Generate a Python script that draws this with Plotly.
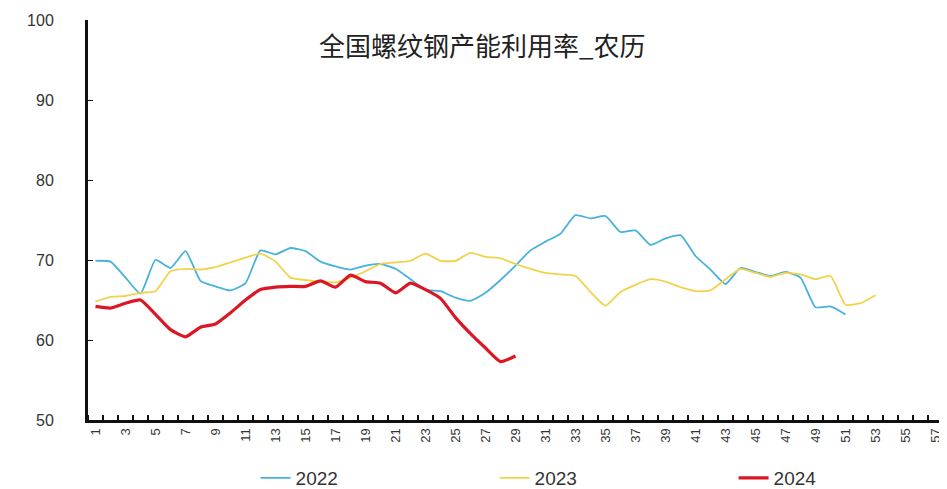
import plotly.graph_objects as go

weeks = list(range(1, 58))
tick_weeks = list(range(1, 58, 2))
tick_labels = [str(w) for w in tick_weeks]

s2022 = [69.9, 69.8, 67.8, 65.8, 70.0, 69.0, 71.1, 67.4, 66.7, 66.2,
         67.1, 71.2, 70.7, 71.5, 71.1, 69.8, 69.2, 68.8, 69.3, 69.5,
         68.9, 67.6, 66.3, 66.1, 65.3, 64.9, 65.9, 67.5, 69.3, 71.2,
         72.3, 73.3, 75.6, 75.2, 75.5, 73.5, 73.7, 71.9, 72.7, 73.1,
         70.5, 68.8, 67.0, 69.0, 68.5, 68.0, 68.5, 67.8, 64.1, 64.2,
         63.2]
s2023 = [64.8, 65.4, 65.5, 65.9, 66.1, 68.6, 68.9, 68.8, 69.1, 69.7,
         70.3, 70.8, 69.8, 67.8, 67.5, 67.3, 67.2, 67.8, 68.6, 69.5,
         69.7, 69.9, 70.8, 69.9, 69.9, 70.9, 70.4, 70.2, 69.5, 68.9,
         68.4, 68.2, 68.0, 66.0, 64.3, 66.0, 66.9, 67.6, 67.3, 66.6,
         66.1, 66.2, 67.6, 68.9, 68.4, 67.9, 68.4, 68.2, 67.6, 68.0,
         64.4, 64.6, 65.6]
s2024 = [64.2, 64.0, 64.6, 65.0, 63.2, 61.3, 60.4, 61.6, 62.0, 63.4,
         65.0, 66.3, 66.6, 66.7, 66.7, 67.4, 66.6, 68.1, 67.3, 67.1,
         65.9, 67.1, 66.3, 65.2, 62.8, 60.8, 59.0, 57.3, 58.0]

series = [
    ("2022", s2022, "#47b2dc", 1.8),
    ("2023", s2023, "#f2d24c", 1.8),
    ("2024", s2024, "#dc1622", 3.2),
]

fig = go.Figure()
for name, vals, color, width in series:
    fig.add_trace(go.Scatter(
        x=weeks[:len(vals)], y=vals, name=name, mode="lines",
        line=dict(color=color, width=width, shape="spline", smoothing=0.5),
    ))

# page body has an 8px margin, so the figure is sized 8px smaller each way
fig.update_layout(
    width=939, height=481,
    paper_bgcolor="white", plot_bgcolor="white",
    margin=dict(l=80, r=4, t=12, b=69, autoexpand=False),
    font=dict(family="Liberation Sans, Arial, sans-serif", color="#333"),
    title=dict(text="全国螺纹钢产能利用率_农历", x=0.505, xref="container",
               y=0.919, yref="container", xanchor="center", yanchor="middle",
               font=dict(family="Noto Sans CJK SC", size=26, color="#222")),
    showlegend=True,
    legend=dict(orientation="h", x=0.196, xanchor="left", y=-0.145, yanchor="middle",
                entrywidth=194, entrywidthmode="pixels",
                font=dict(size=19, color="#333"), bgcolor="rgba(0,0,0,0)"),
)
fig.update_xaxes(
    range=[0.5, 57.5], tickmode="array", tickvals=tick_weeks, ticktext=tick_labels,
    tickangle=-90, ticks="", showgrid=False, zeroline=False,
    showline=True, linecolor="#111", linewidth=3, automargin=False,
    tickfont=dict(size=13, color="#333"),
    minor=dict(ticks="inside", tick0=0.5, dtick=1, ticklen=5, tickcolor="#111",
               tickwidth=1.5, showgrid=False),
)
fig.update_yaxes(
    range=[50, 100], dtick=10, ticks="inside", ticklen=5, tickcolor="#111",
    showgrid=False, zeroline=False, showline=True, linecolor="#111", linewidth=3,
    automargin=False,
    tickfont=dict(size=16, color="#333"), ticklabelstandoff=28,
)

fig.write_html("out.html")
